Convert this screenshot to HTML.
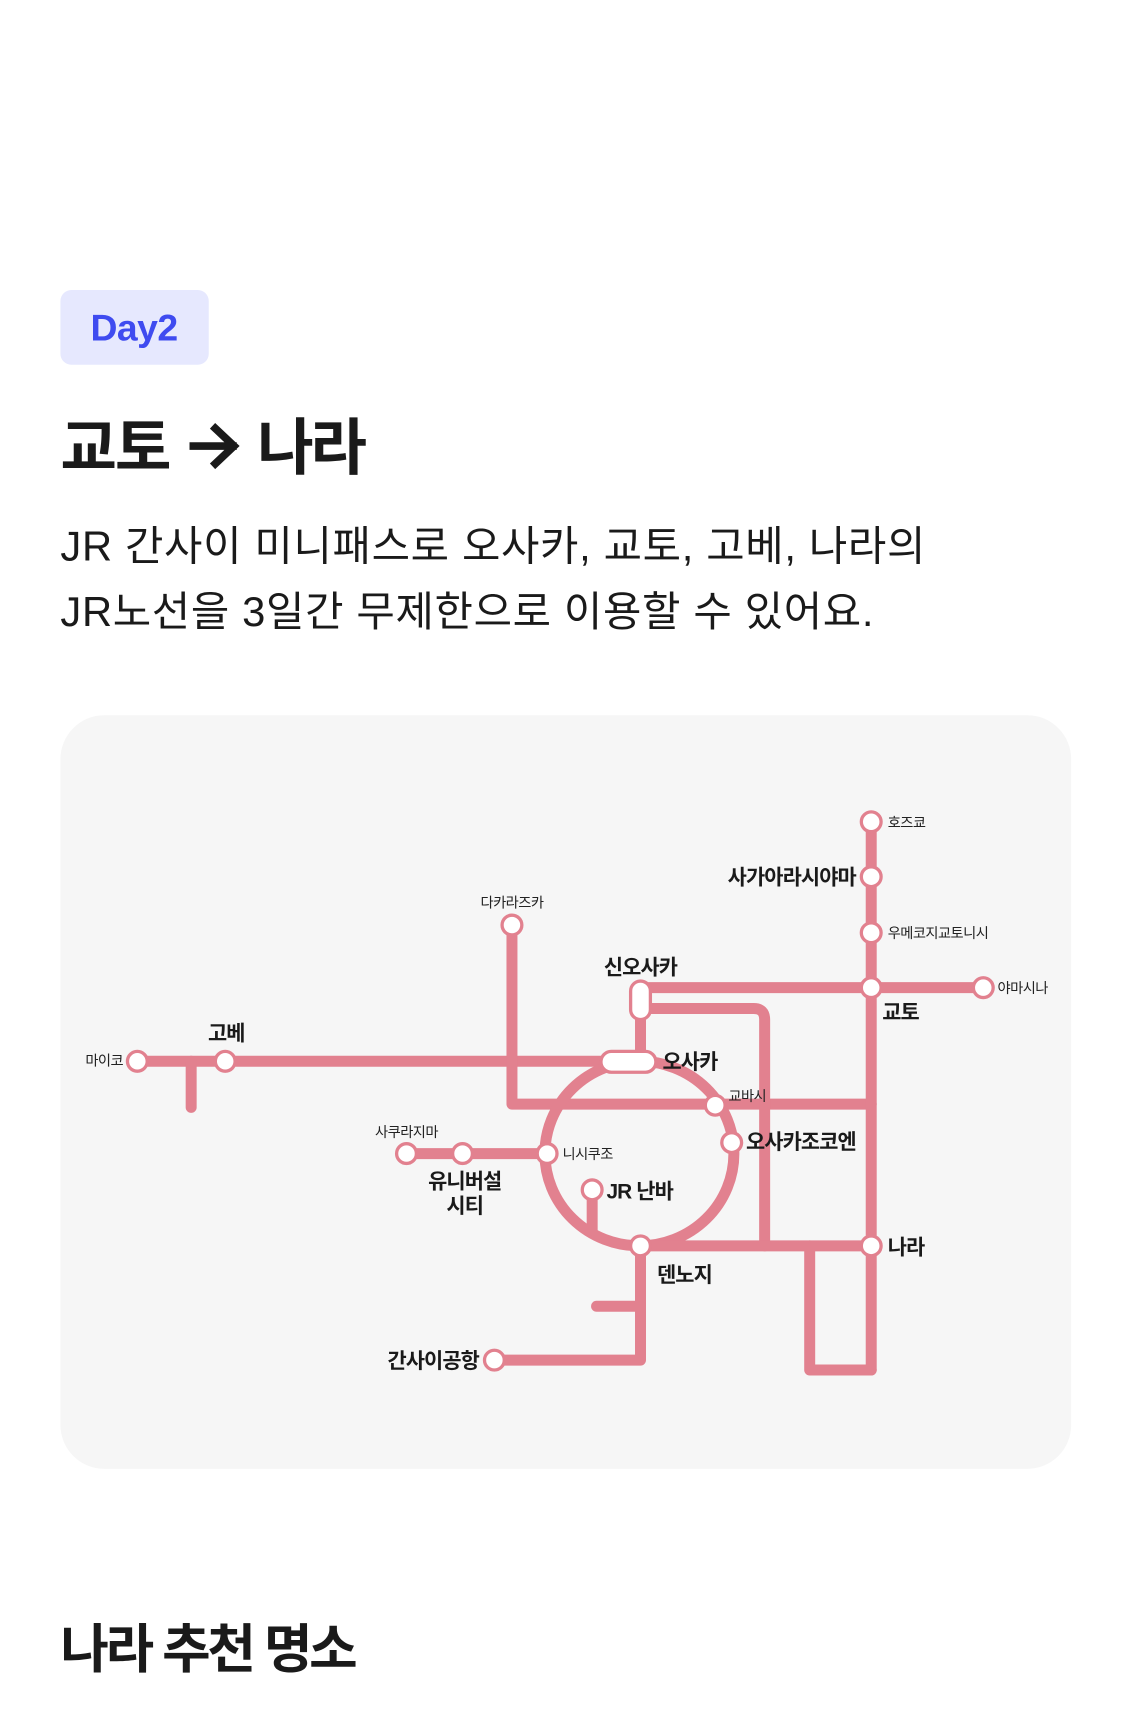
<!DOCTYPE html>
<html><head><meta charset="utf-8"><style>
html,body{margin:0;padding:0;background:#fff;}
svg{display:block;}
text{font-family:"Liberation Sans","Noto Sans CJK KR",sans-serif;}
</style></head><body>
<svg width="1125" height="1713" viewBox="0 0 1024 1559.2" xmlns="http://www.w3.org/2000/svg">
<rect x="55" y="264" width="135" height="68" rx="10" fill="#e6e8fe"/>
<text x="122" y="310" font-size="34" font-weight="700" fill="#3f4bf0" text-anchor="middle" letter-spacing="-0.5">Day2</text>
<text x="55" y="427" font-size="56" font-weight="700" fill="#1a1a1a" letter-spacing="-2">교토</text>
<path d="M176 406 H212 M196 390 L213 406 L196 422" fill="none" stroke="#1a1a1a" stroke-width="7" stroke-linecap="square" stroke-linejoin="miter"/>
<text x="234" y="427" font-size="56" font-weight="700" fill="#1a1a1a" letter-spacing="-3">나라</text>
<text x="55" y="510" font-size="38" fill="#1a1a1a" letter-spacing="0.6">JR 간사이 미니패스로 오사카, 교토, 고베, 나라의</text>
<text x="55" y="570" font-size="38" fill="#1a1a1a" letter-spacing="0.6">JR노선을 3일간 무제한으로 이용할 수 있어요.</text>
<rect x="55" y="651" width="920" height="686" rx="40" fill="#f6f6f6"/>
<g fill="none" stroke="#e2818f" stroke-width="10" stroke-linecap="round" stroke-linejoin="round">
<line x1="125" y1="966" x2="572" y2="966"/>
<line x1="174" y1="966" x2="174" y2="1008"/>
<polyline points="466,842 466,1005 793,1005"/>
<line x1="583" y1="899" x2="583" y2="966"/>
<line x1="583" y1="899" x2="895" y2="899"/>
<path d="M592 918 H686 Q696 918 696 928 V1134"/>
<line x1="793" y1="748" x2="793" y2="1247"/>
<polyline points="793,1247 737,1247 737,1134"/>
<ellipse cx="582" cy="1050" rx="86" ry="84"/>
<line x1="370" y1="1050" x2="498" y2="1050"/>
<line x1="539" y1="1083" x2="539" y2="1120"/>
<line x1="583" y1="1134" x2="793" y2="1134"/>
<polyline points="583,1134 583,1238 450,1238"/>
<line x1="543" y1="1189" x2="583" y2="1189"/>
</g>
<g fill="#fff" stroke="#e2818f" stroke-width="3">
<rect x="547" y="957" width="50" height="19" rx="9.5"/>
<rect x="574" y="893" width="18" height="35" rx="9"/>
<circle cx="125" cy="966" r="9"/><circle cx="205" cy="966" r="9"/>
<circle cx="466" cy="842" r="9"/>
<circle cx="793" cy="748" r="9"/><circle cx="793" cy="798" r="9"/><circle cx="793" cy="849" r="9"/><circle cx="793" cy="899" r="9"/><circle cx="793" cy="1134" r="9"/>
<circle cx="895" cy="899" r="9"/>
<circle cx="651" cy="1006" r="9"/><circle cx="666" cy="1040" r="9"/><circle cx="498" cy="1050" r="9"/><circle cx="583" cy="1134" r="9"/>
<circle cx="370" cy="1050" r="9"/><circle cx="421" cy="1050" r="9"/>
<circle cx="539" cy="1083" r="9"/><circle cx="450" cy="1238" r="9"/>
</g>
<g font-size="13" fill="#222" letter-spacing="-0.5">
<text x="112" y="970" text-anchor="end">마이코</text>
<text x="466" y="826" text-anchor="middle">다카라즈카</text>
<text x="808" y="753">호즈쿄</text>
<text x="808" y="854">우메코지교토니시</text>
<text x="908" y="904">야마시나</text>
<text x="663" y="1002">교바시</text>
<text x="512" y="1055">니시쿠조</text>
<text x="370" y="1035" text-anchor="middle">사쿠라지마</text>
</g>
<g font-size="19" font-weight="700" fill="#1a1a1a" letter-spacing="-0.8">
<text x="206" y="947" text-anchor="middle">고베</text>
<text x="583" y="887" text-anchor="middle">신오사카</text>
<text x="603" y="973">오사카</text>
<text x="779" y="805" text-anchor="end">사가아라시야마</text>
<text x="803" y="928">교토</text>
<text x="679" y="1046">오사카조코엔</text>
<text x="552" y="1091">JR 난바</text>
<text x="423" y="1082" text-anchor="middle">유니버설</text>
<text x="423" y="1104" text-anchor="middle">시티</text>
<text x="598" y="1167">덴노지</text>
<text x="436" y="1245" text-anchor="end">간사이공항</text>
<text x="808" y="1142">나라</text>
</g>
<text x="55" y="1518" font-size="48" font-weight="700" fill="#1a1a1a" letter-spacing="-3">나라 추천 명소</text>
</svg>
</body></html>
